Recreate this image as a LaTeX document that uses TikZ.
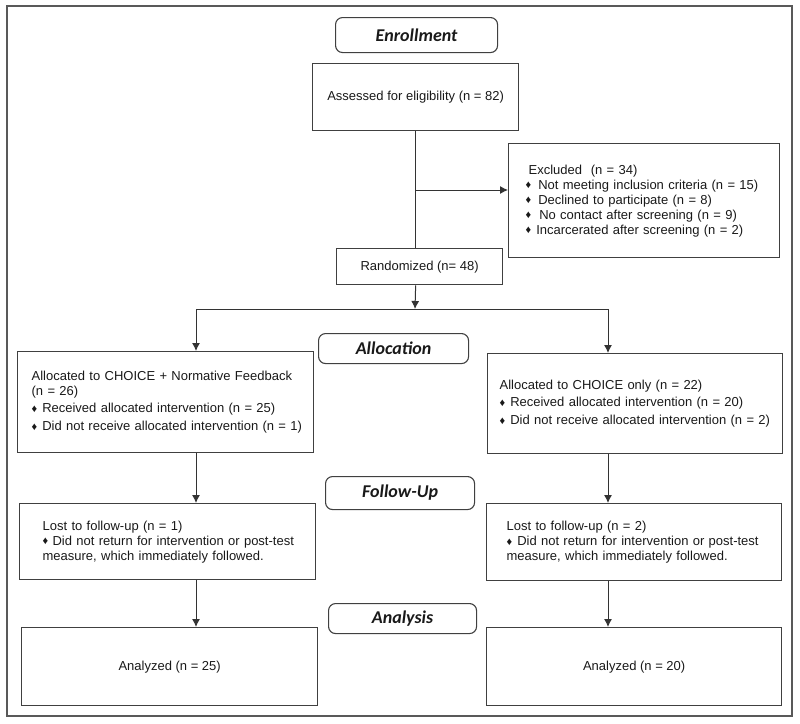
\documentclass[tikz,border=0pt]{standalone}
\usepackage{fontspec}
\setmainfont{Liberation Sans}
\newfontfamily\stagefont{Carlito}
\usetikzlibrary{arrows.meta}

\newcommand{\dia}{{\fontsize{11}{11}\selectfont\raisebox{0.4pt}{♦}}}

\begin{document}
\begin{tikzpicture}[x=1pt, y=-1pt,
	box/.style={draw=black!75, line width=1.3pt, inner ysep=0pt, anchor=north west, font=\fontsize{13}{15}\selectfont, text=black!90},
	stage/.style={draw=black!75, line width=1.1pt, rounded corners=7pt, anchor=north west, inner sep=0pt, font=\stagefont\bfseries\itshape\fontsize{18}{18}\selectfont, text=black!90},
	arr/.style={draw=black!80, line width=1pt, -{Latex[length=8pt,width=8pt]}}]
	\useasboundingbox (0,0) rectangle (800,723);
	\draw[black!65, line width=1.2pt] (7,6) rectangle (792,716);
	\node[stage, minimum width=162pt, minimum height=35pt] (enroll) at (335,17) {Enrollment};
	\node[box, minimum width=206pt, minimum height=67pt] (assess) at (312,63) {Assessed for eligibility (n = 82)};
	\node[box, minimum width=271pt, minimum height=114pt, text width=241pt, inner xsep=15pt, align=left] (excl) at (508,143)
	  {\hspace{5pt}Excluded\ \ (n = 34)\\
	   \hspace{2pt}\dia\hspace{7pt}Not meeting inclusion criteria (n = 15)\\
	   \hspace{2pt}\dia\hspace{7pt}Declined to participate (n = 8)\\
	   \hspace{2pt}\dia\hspace{8pt}No contact after screening (n = 9)\\
	   \hspace{2pt}\dia\hspace{5pt}Incarcerated after screening (n = 2)};
	\node[box, minimum width=166pt, minimum height=36pt] (random) at (336,248) {Randomized (n= 48)};
	\node[stage, minimum width=150pt, minimum height=30pt] (alloc) at (318,333) {Allocation};
	\node[box, minimum width=296pt, minimum height=101pt, text width=274pt, inner xsep=11pt, align=left] (allocL) at (17,351)
	  {\hspace{3pt}Allocated to CHOICE + Normative Feedback\\
	   \hspace{3pt}(n = 26)\\[2pt]
	   \hspace{3pt}\dia\hspace{5pt}Received allocated intervention (n = 25)\\[3pt]
	   \hspace{3pt}\dia\hspace{5pt}Did not receive allocated intervention (n = 1)};
	\node[box, minimum width=295pt, minimum height=100pt, text width=277pt, inner xsep=9pt, align=left] (allocR) at (487,353)
	  {\hspace{3pt}Allocated to CHOICE only (n = 22)\\[2pt]
	   \hspace{3pt}\dia\hspace{5pt}Received allocated intervention (n = 20)\\[3pt]
	   \hspace{3pt}\dia\hspace{5pt}Did not receive allocated intervention (n = 2)};
	\node[stage, minimum width=149pt, minimum height=33pt] (follow) at (325,476) {Follow-Up};
	\node[box, minimum width=296pt, minimum height=76pt, text width=262pt, inner xsep=17pt, align=left] (lostL) at (19,503)
	  {\hspace{6pt}Lost to follow-up (n = 1)\\
	   \hspace{6pt}\dia\ Did not return for intervention or post-test\\
	   \hspace{6pt}measure, which immediately followed.};
	\node[box, minimum width=295pt, minimum height=77pt, text width=265pt, inner xsep=15pt, align=left] (lostR) at (486,503)
	  {\hspace{5pt}Lost to follow-up (n = 2)\\
	   \hspace{5pt}\dia\hspace{5pt}Did not return for intervention or post-test\\
	   \hspace{5pt}measure, which immediately followed.};
	\node[stage, minimum width=148pt, minimum height=30pt] (analysis) at (328,603) {Analysis};
	\node[box, minimum width=296pt, minimum height=78pt] (anaL) at (21,627) {Analyzed (n = 25)};
	\node[box, minimum width=295pt, minimum height=78pt] (anaR) at (486,627) {Analyzed (n = 20)};
	\coordinate (split) at (415,190);
	\coordinate (fork) at (415,309);
	\coordinate (forkL) at (196,309);
	\coordinate (forkR) at (608,309);
	\draw[black!80, line width=1pt] (assess.south) -- (assess.south |- random.north);
	\draw[arr] (split) -- (split -| excl.west);
	\draw[arr] (assess.south |- random.south) -- (fork);
	\draw[black!80, line width=1pt] (forkL) -- (forkR);
	\draw[arr] (forkL) -- (forkL |- allocL.north);
	\draw[arr] (forkR) -- (forkR |- allocR.north);
	\draw[arr] (forkL |- allocL.south) -- (forkL |- lostL.north);
	\draw[arr] (forkR |- allocR.south) -- (forkR |- lostR.north);
	\draw[arr] (forkL |- lostL.south) -- (forkL |- anaL.north);
	\draw[arr] (forkR |- lostR.south) -- (forkR |- anaR.north);
\end{tikzpicture}
\end{document}
